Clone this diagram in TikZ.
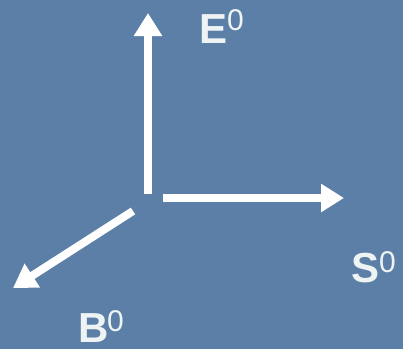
\documentclass[tikz,border=0pt]{standalone}
\usepackage{fontspec}
\setmainfont{Liberation Sans}
\usetikzlibrary{arrows.meta}
\definecolor{bgblue}{RGB}{91,127,166}
\definecolor{txtwhite}{RGB}{238,243,243}
\begin{document}
\begin{tikzpicture}[x=1pt,y=1pt,
  vec/.style={draw=white,line width=8pt,-{Triangle[length=23pt,width=27pt]}},
  lbl/.style={anchor=base west,inner sep=0pt,text=txtwhite,font=\fontsize{42}{42}\selectfont\bfseries},
  sup/.style={anchor=base west,inner sep=0pt,text=txtwhite,font=\fontsize{30}{30}\selectfont}]
\fill[bgblue] (0,0) rectangle (403,349);
\useasboundingbox (0,0) rectangle (403,349);
\coordinate (ob) at (148,155);
\coordinate (et) at (148,336);
\coordinate (os) at (163,151);
\coordinate (st) at (344,151);
\coordinate (obb) at (133,138);
\coordinate (bt) at (13,61);
\draw[vec] (ob) -- (et);
\draw[vec] (os) -- (st);
\draw[vec] (obb) -- (bt);
\node[lbl] (E) at (199,306) {E};
\node[sup] (E0) at (227,319) {0};
\node[lbl] (S) at (351,67) {S};
\node[sup] (S0) at (379,77) {0};
\node[lbl] (B) at (78,7) {B};
\node[sup] (B0) at (107,18) {0};
\end{tikzpicture}
\end{document}
